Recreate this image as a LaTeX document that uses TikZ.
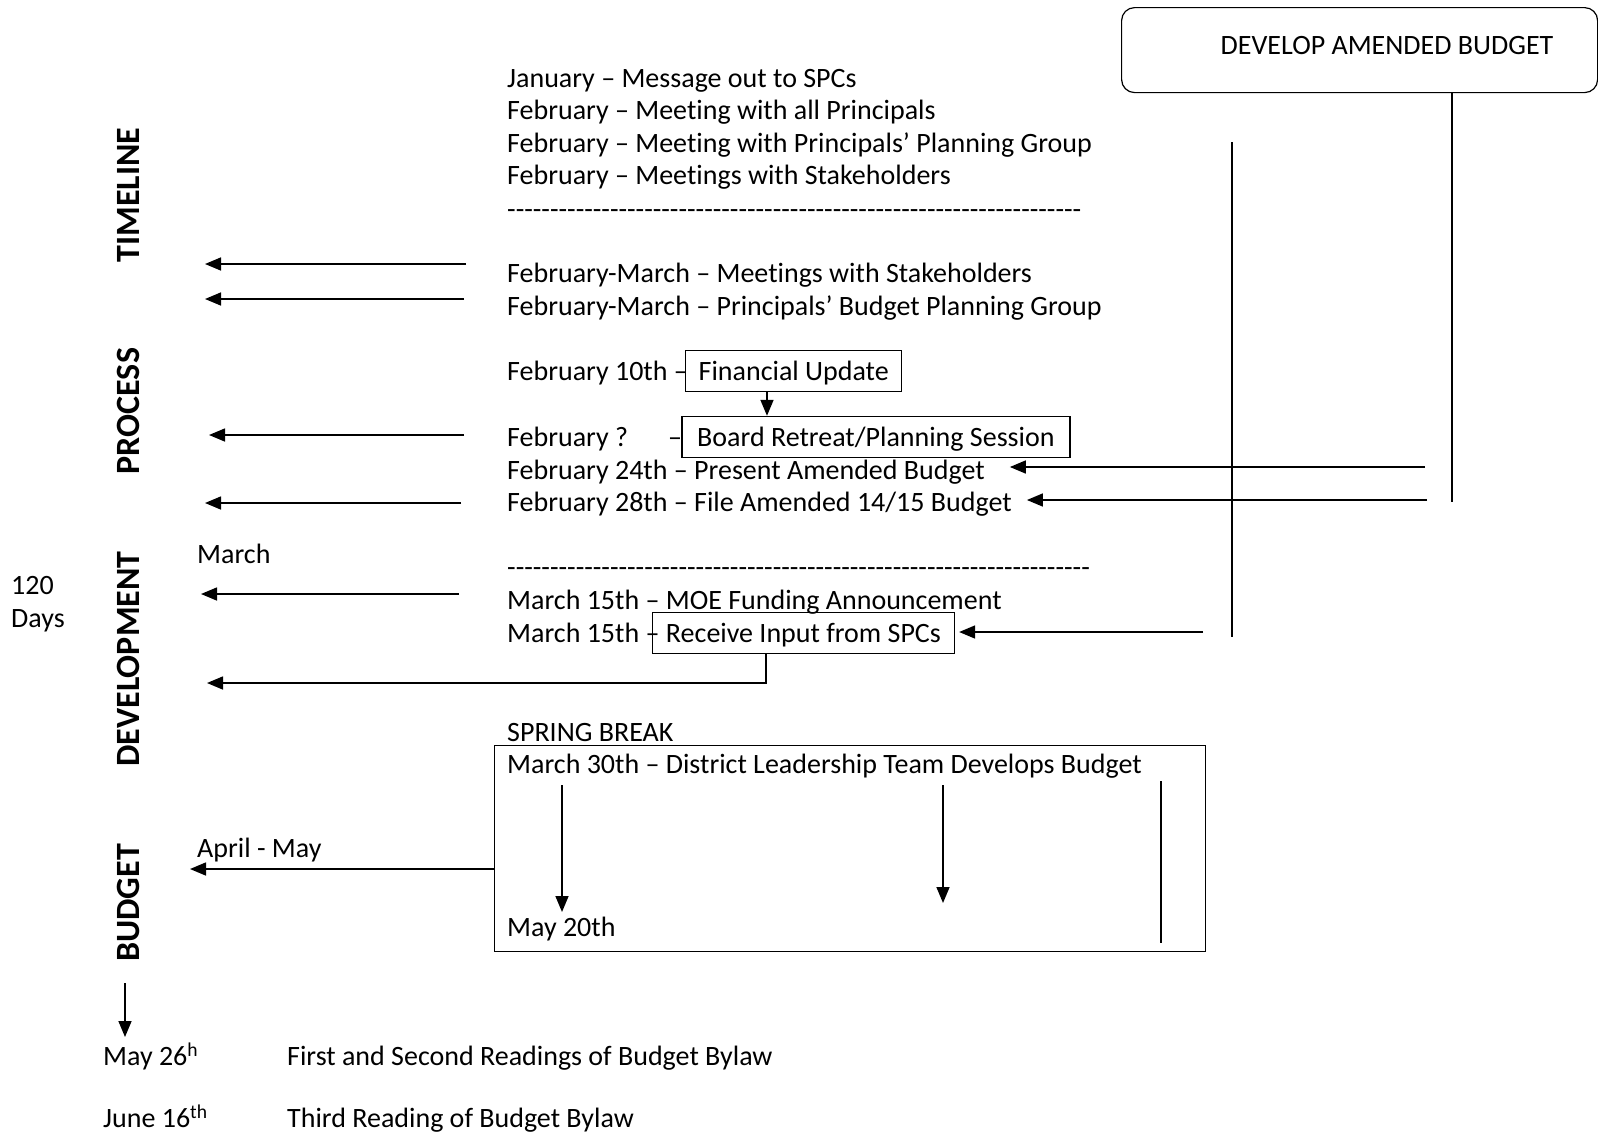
\documentclass[tikz,border=0pt]{standalone}
\usepackage{fontspec}
\setmainfont{Carlito}[Ligatures={TeX,NoCommon}]
\newfontfamily\dashfont{Carlito}[Ligatures=NoCommon]
\usetikzlibrary{arrows.meta, positioning}

% a row of typed hyphens, no ligatures
\newcommand{\dashrow}[1]{{\dashfont\foreach \k in {1,...,#1}{-}}}

\begin{document}
\begin{tikzpicture}[x=1pt, y=-1pt, font=\fontsize{28}{33}\selectfont,
    every node/.style={inner sep=0pt},
    txt/.style={anchor=west, text height=22pt, text depth=3pt},
    box/.style={draw, line width=1.4pt, minimum height=41pt, text height=22pt, text depth=3pt},
    phase/.style={rotate=90, font=\fontsize{34}{40}\selectfont\bfseries},
    link/.style={line width=1.6pt},
    >={Triangle[length=16pt, width=13pt]}]
    \useasboundingbox (0,0) rectangle (1598,1133);

    % phase labels
    \node[phase] (timeline) at (128,195) {TIMELINE};
    \node[phase] (process) at (128,411) {PROCESS};
    \node[phase] (develop) at (128,659) {DEVELOPMENT};
    \node[phase] (budget) at (128,903) {BUDGET};
    \node[txt] (days1) at (11,585) {120};
    \node[txt] (days2) at (11,618) {Days};
    \node[txt] (march) at (197,554) {March};
    \node[txt] (aprmay) at (197,848) {April - May};

    % timeline entries
    \node[txt] (jan) at (507,77.5) {January – Message out to SPCs};
    \node[txt] (feba) at (507,110) {February – Meeting with all Principals};
    \node[txt] (febb) at (507,142.7) {February – Meeting with Principals’ Planning Group};
    \node[txt] (febc) at (507,175.3) {February – Meetings with Stakeholders};
    \node[txt] (dasha) at (507,209) {\dashrow{67}};
    \node[txt] (fma) at (507,273) {February-March – Meetings with Stakeholders};
    \node[txt] (fmb) at (507,306) {February-March – Principals’ Budget Planning Group};
    \node[txt] (feb10) at (507,371) {February 10th –};
    \node[box, minimum width=216pt, right=-3pt of feb10] (fin) {Financial Update};
    \node[txt] (febq) at (507,437) {February ?\hspace{40pt}–};
    \node[box, minimum width=388pt, right=-1pt of febq] (board) {Board Retreat/Planning Session};
    \node[txt] (feb24) at (507,470) {February 24th – Present Amended Budget};
    \node[txt] (feb28) at (507,502) {February 28th – File Amended 14/15 Budget};
    \node[txt] (dashb) at (507,567) {\dashrow{68}};
    \node[txt] (mar15a) at (507,600) {March 15th – MOE Funding Announcement};
    \node[txt] (mar15b) at (507,633) {March 15th –};
    \node[box, minimum width=302pt, right=-8pt of mar15b] (recv) {Receive Input from SPCs};
    \node[txt] (spring) at (507,732) {SPRING BREAK};
    \node[draw, line width=1.4pt, minimum width=711pt, minimum height=206pt, anchor=north west] (bigbox) at (494,745) {};
    \node[txt] (mar30) at (507,764) {March 30th – District Leadership Team Develops Budget};
    \node[txt] (may20) at (507,927) {May 20th};

    % amended budget box
    \node[draw, line width=1.2pt, rounded corners=13pt, minimum width=476pt, minimum height=85pt, anchor=north west] (devbox) at (1121,7) {};
    \node (devtxt) at (1387,46) {DEVELOP AMENDED BUDGET};

    % readings
    \node[txt] (may26) at (103,1056) {May 26\textsuperscript{h}};
    \node[txt] (read12) at (287,1056) {First and Second Readings of Budget Bylaw};
    \node[txt] (june16) at (103,1118) {June 16\textsuperscript{th}};
    \node[txt] (read3) at (287,1118) {Third Reading of Budget Bylaw};

    % arrows to the left margin
    \foreach \n/\y/\xa/\xb in {1/264/466/205, 2/299/464/205, 3/435/464/209, 4/503/461/205, 5/594/459/201}{
        \coordinate (from\n) at (\xa,\y);
        \coordinate (to\n) at (\xb,\y);
        \draw[link,->] (from\n) -- (to\n);
    }
    \coordinate (rturn) at (766,683);
    \coordinate (rend) at (207,683);
    \draw[link,->] (recv.south -| rturn) -- (rturn) -- (rend);
    \coordinate (amend) at (190,869);
    \draw[link,->] (bigbox.west |- amend) -- (amend);

    % boxes and inputs
    \coordinate (finx) at (767,0);
    \draw[link,->] (fin.south -| finx) -- (board.north -| finx);
    \coordinate (p24) at (1425,467);
    \coordinate (p28) at (1427,500);
    \coordinate (p15) at (1203,632);
    \draw[link,->,shorten >=25pt] (p24) -- (p24 -| feb24.east);
    \draw[link,->,shorten >=15pt] (p28) -- (p28 -| feb28.east);
    \draw[link,->,shorten >=4pt] (p15) -- (p15 -| recv.east);
    \coordinate (vtop) at (1232,142);
    \coordinate (vbot) at (1232,637);
    \draw[link] (vtop) -- (vbot);
    \coordinate (devfoot) at (1452,502);
    \draw[link] (devbox.south -| devfoot) -- (devfoot);

    % inside the spring break box
    \coordinate (down1) at (562,785);
    \coordinate (down1end) at (562,912);
    \draw[link,->] (down1) -- (down1end);
    \coordinate (down2) at (943,785);
    \coordinate (down2end) at (943,903);
    \draw[link,->] (down2) -- (down2end);
    \coordinate (stemtop) at (1161,781);
    \coordinate (stembot) at (1161,943);
    \draw[link] (stemtop) -- (stembot);

    % to the readings
    \coordinate (btop) at (125,983);
    \coordinate (bbot) at (125,1037);
    \draw[link,->] (btop) -- (bbot);
\end{tikzpicture}
\end{document}
